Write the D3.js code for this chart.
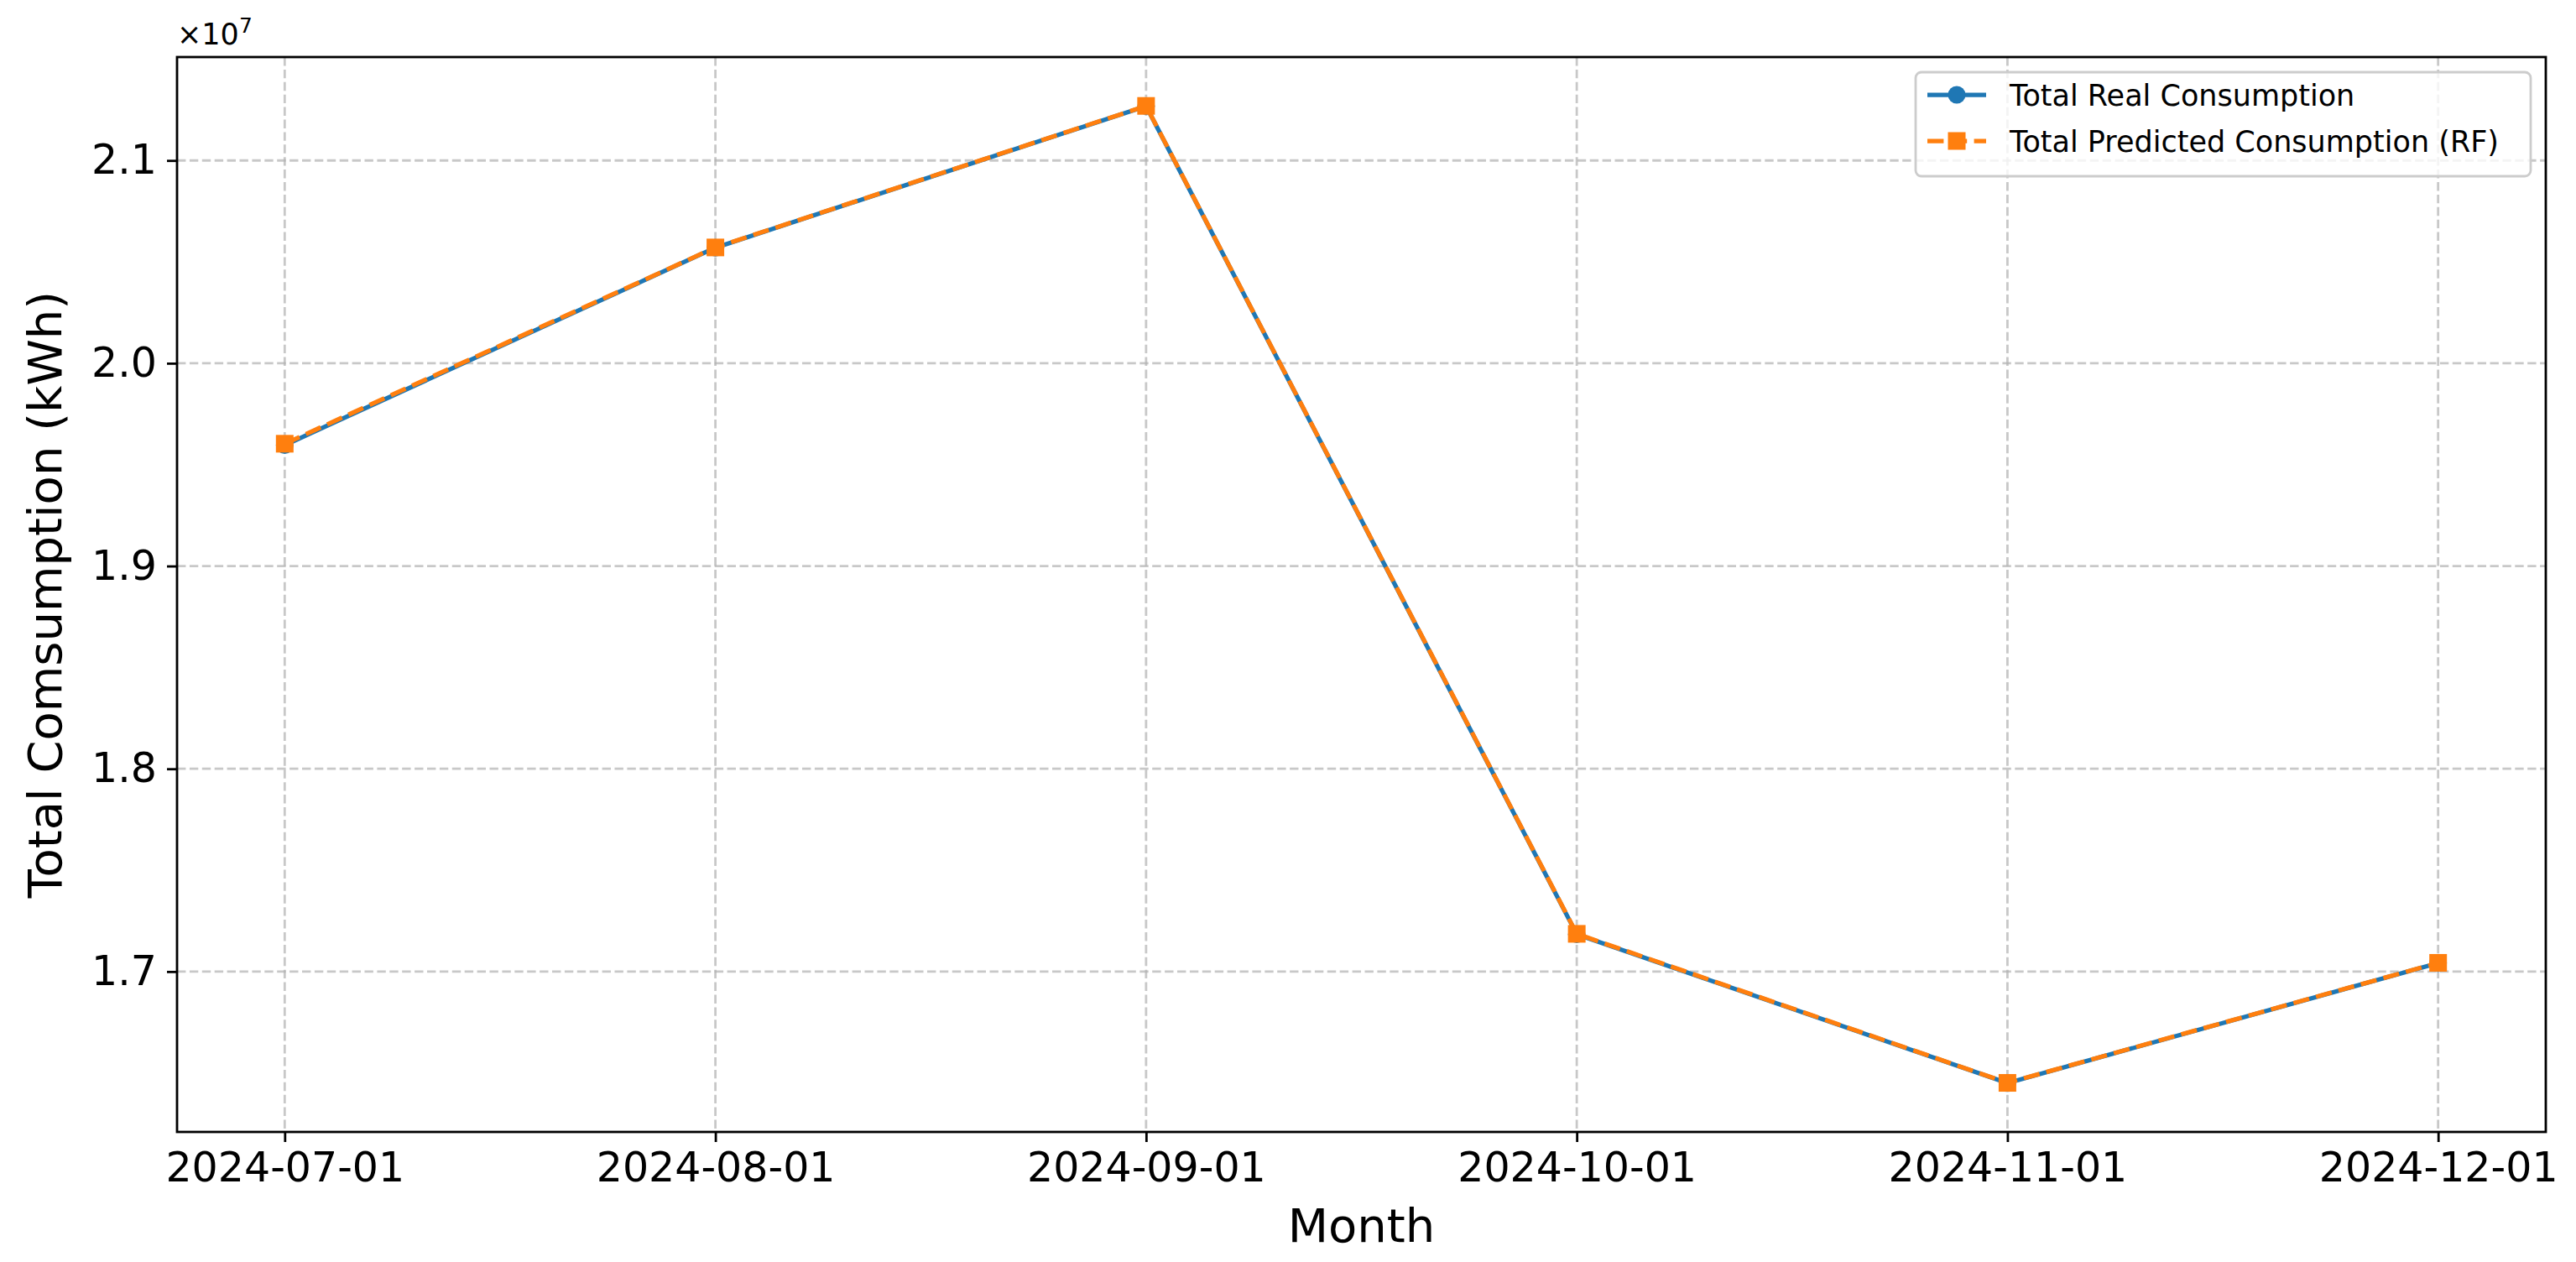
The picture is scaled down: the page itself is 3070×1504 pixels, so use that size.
<!DOCTYPE html>
<html>
<head>
<meta charset="utf-8">
<script src="https://cdn.jsdelivr.net/npm/d3@7"></script>
<style>
  html, body { margin: 0; padding: 0; background: #ffffff; }
  svg { display: block; font-family: "DejaVu Sans", sans-serif; }
</style>
</head>
<body>
<script>
// ---- data ----
const months = ["2024-07-01", "2024-08-01", "2024-09-01", "2024-10-01", "2024-11-01", "2024-12-01"];
const realConsumption = [19596000, 20570000, 21268000, 17184000, 16450000, 17042000];
const predictedConsumption = [19603000, 20571000, 21269000, 17186000, 16451000, 17043000];
const yTicks = [17000000, 18000000, 19000000, 20000000, 21000000];
const yTickLabels = ["1.7", "1.8", "1.9", "2.0", "2.1"];
const seriesNames = ["Total Real Consumption", "Total Predicted Consumption (RF)"];
const xLabel = "Month";
const yLabel = "Total Comsumption (kWh)";

(function () {
// ---- layout ----
const W = 3070, H = 1504;
const pL = 211, pR = 3034, pT = 68, pB = 1349;
const blue = "#1f77b4", orange = "#ff7f0e";
const tickFont = 49, labelFont = 56, smallFont = 35;

const svg = d3.select("body").append("svg").attr("width", W).attr("height", H);
svg.append("rect").attr("width", W).attr("height", H).attr("fill", "#fff");

const x = d3.scalePoint().domain(months).range([pL, pR]).padding(0.25);
const all = realConsumption.concat(predictedConsumption);
const ymin = d3.min(all), ymax = d3.max(all), m = (ymax - ymin) * 0.05;
const y = d3.scaleLinear().domain([ymin - m, ymax + m]).range([pB, pT]);

// grid
const grid = svg.append("g");
grid.selectAll(".gx").data(months).enter().append("line")
  .attr("x1", d => x(d)).attr("x2", d => x(d)).attr("y1", pT).attr("y2", pB)
  .attr("stroke", "#b0b0b0").attr("stroke-opacity", 0.7).attr("stroke-width", 2.8)
  .attr("stroke-dasharray", "10.4,4.5");
grid.selectAll(".gy").data(yTicks).enter().append("line")
  .attr("x1", pL).attr("x2", pR).attr("y1", d => y(d)).attr("y2", d => y(d))
  .attr("stroke", "#b0b0b0").attr("stroke-opacity", 0.7).attr("stroke-width", 2.8)
  .attr("stroke-dasharray", "10.4,4.5");

// axes
const xAxis = d3.axisBottom(x).tickSize(12).tickPadding(12);
const gx = svg.append("g").attr("transform", `translate(0,${pB})`).call(xAxis);
const yAxis = d3.axisLeft(y).tickValues(yTicks).tickFormat((d, i) => yTickLabels[i]).tickSize(12).tickPadding(12);
const gy = svg.append("g").attr("transform", `translate(${pL},0)`).call(yAxis);
[gx, gy].forEach(g => {
  g.select(".domain").remove();
  g.selectAll(".tick line").attr("stroke", "#000").attr("stroke-width", 2.8);
  g.selectAll(".tick text").attr("fill", "#000").style("font-size", tickFont + "px")
    .style("font-family", "DejaVu Sans");
});

// lines
const line = d3.line().x((d, i) => x(months[i])).y(d => y(d));
svg.append("path").datum(realConsumption).attr("d", line)
  .attr("fill", "none").attr("stroke", blue).attr("stroke-width", 5.25).attr("stroke-linejoin", "round");
svg.selectAll(".real-pt").data(realConsumption).enter().append("circle")
  .attr("cx", (d, i) => x(months[i])).attr("cy", d => y(d)).attr("r", 10.5).attr("fill", blue);
svg.append("path").datum(predictedConsumption).attr("d", line)
  .attr("fill", "none").attr("stroke", orange).attr("stroke-width", 5.25)
  .attr("stroke-dasharray", "19.4,8.4");
svg.selectAll(".pred-pt").data(predictedConsumption).enter().append("rect")
  .attr("x", (d, i) => x(months[i]) - 10.5).attr("y", d => y(d) - 10.5)
  .attr("width", 21).attr("height", 21).attr("fill", orange);

// frame
svg.append("rect").attr("x", pL).attr("y", pT).attr("width", pR - pL).attr("height", pB - pT)
  .attr("fill", "none").attr("stroke", "#000").attr("stroke-width", 2.8);

// axis labels
svg.append("text").attr("x", (pL + pR) / 2).attr("y", 1480).attr("text-anchor", "middle")
  .style("font-size", labelFont + "px").text(xLabel);
svg.append("text").attr("transform", `translate(73,${(pT + pB) / 2}) rotate(-90)`)
  .attr("text-anchor", "middle").style("font-size", labelFont + "px").text(yLabel);

// offset text
const off = svg.append("text").attr("x", pL).attr("y", 53).style("font-size", smallFont + "px");
off.append("tspan").text("×10");
off.append("tspan").attr("dy", -14).style("font-size", "25px").text("7");

// legend
const lg = svg.append("g");
const lx = 2283, ly = 86, lw = 733, lh = 124;
lg.append("rect").attr("x", lx).attr("y", ly).attr("width", lw).attr("height", lh)
  .attr("rx", 7).attr("fill", "#fff").attr("fill-opacity", 0.8)
  .attr("stroke", "#cccccc").attr("stroke-width", 2.8);
const rows = [113, 168];
const hx0 = lx + 14, hx1 = hx0 + 70, hmid = (hx0 + hx1) / 2;
lg.append("line").attr("x1", hx0).attr("x2", hx1).attr("y1", rows[0]).attr("y2", rows[0])
  .attr("stroke", blue).attr("stroke-width", 5.25);
lg.append("circle").attr("cx", hmid).attr("cy", rows[0]).attr("r", 10.5).attr("fill", blue);
lg.append("line").attr("x1", hx0).attr("x2", hx1).attr("y1", rows[1]).attr("y2", rows[1])
  .attr("stroke", orange).attr("stroke-width", 5.25).attr("stroke-dasharray", "19.4,8.4");
lg.append("rect").attr("x", hmid - 10.5).attr("y", rows[1] - 10.5).attr("width", 21).attr("height", 21).attr("fill", orange);
seriesNames.forEach((s, i) => {
  lg.append("text").attr("x", hx1 + 28).attr("y", rows[i]).attr("dy", "0.36em")
    .style("font-size", smallFont + "px").attr("fill", "#000").text(s);
});
})();
</script>
</body>
</html>
